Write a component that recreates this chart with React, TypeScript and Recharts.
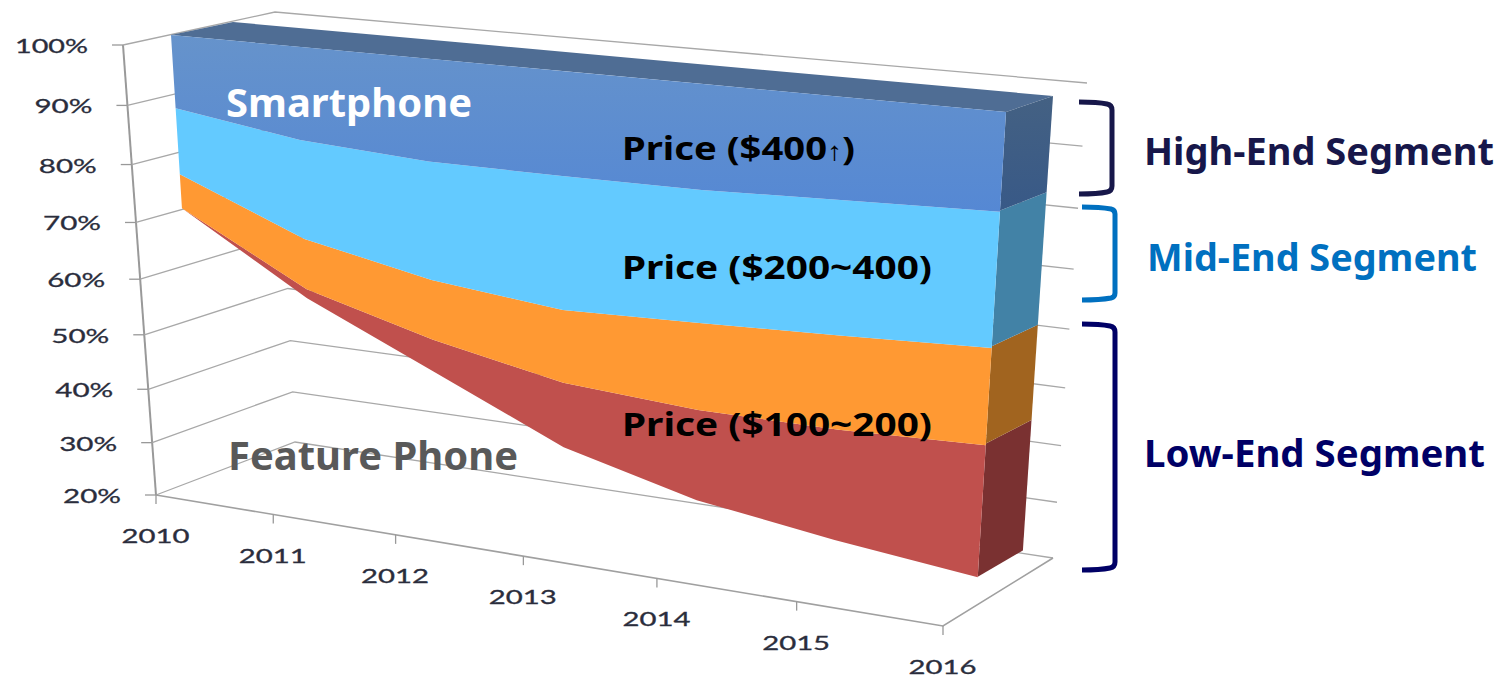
import { AreaChart, Area, XAxis, YAxis, CartesianGrid } from "recharts";

const W = 1501;
const H = 678;

const years = [2010, 2011, 2012, 2013, 2014, 2015, 2016];
const percentTicks = [20, 30, 40, 50, 60, 70, 80, 90, 100];

// shares, stacked from the bottom up
const featurePhone = [70, 56.7, 46.6, 36.5, 30.7, 27.5, 25];
const under100 = [0, 1.6, 5.7, 11.4, 15.8, 19, 22.4];
const price100to200 = [6, 8.9, 10.5, 12.6, 14.8, 15.7, 15.9];
const price200to400 = [11.5, 17.1, 20.2, 22.5, 21.9, 21.8, 21.5];
const price400up = [12.5, 15.7, 17, 17, 16.8, 16, 15.2];

const chartData = years.map((year, i) => ({
  year,
  featurePhone: featurePhone[i],
  under100: under100[i],
  price100to200: price100to200[i],
  price200to400: price200to400[i],
  price400up: price400up[i],
}));

type Pt = [number, number];

// maps the unit square onto a quad, this is what fakes the 3D view
function quadMap(p00: Pt, p10: Pt, p11: Pt, p01: Pt) {
  const sx = p00[0] - p10[0] + p11[0] - p01[0];
  const sy = p00[1] - p10[1] + p11[1] - p01[1];
  const dx1 = p10[0] - p11[0];
  const dx2 = p01[0] - p11[0];
  const dy1 = p10[1] - p11[1];
  const dy2 = p01[1] - p11[1];
  const det = dx1 * dy2 - dx2 * dy1;
  const g = (sx * dy2 - dx2 * sy) / det;
  const h = (dx1 * sy - sx * dy1) / det;
  const a = p10[0] - p00[0] + g * p10[0];
  const b = p01[0] - p00[0] + h * p01[0];
  const d = p10[1] - p00[1] + g * p10[1];
  const e = p01[1] - p00[1] + h * p01[1];
  return (u: number, v: number): Pt => {
    const q = g * u + h * v + 1;
    return [(a * u + b * v + p00[0]) / q, (d * u + e * v + p00[1]) / q];
  };
}

const frontFace = quadMap([171, 35], [1006, 112], [976, 606], [199, 478]);
const sideFace = quadMap([1006, 112], [1053, 96], [1021, 579], [976, 606]);
const topFace = quadMap([171, 35], [1006, 112], [1053, 96], [233, 22]);
const leftWall = quadMap([123, 45], [275, 12], [295, 442], [156, 495]);
const backWall = quadMap([275, 12], [1087, 83], [1053, 558], [295, 442]);
const floor = quadMap([156, 495], [943, 626], [1053, 558], [295, 442]);

// d3 curve that hands both edges of the area to a function returning the polygon
function polygonCurve(toPolygon: (upper: Pt[], lower: Pt[]) => Pt[]) {
  return (context: any) => {
    let lines: Pt[][] = [];
    let cur: Pt[] = [];
    return {
      areaStart() {
        lines = [];
      },
      areaEnd() {
        toPolygon(lines[0], lines[1] || []).forEach((p, i) => {
          if (i === 0) context.moveTo(p[0], p[1]);
          else context.lineTo(p[0], p[1]);
        });
        context.closePath();
      },
      lineStart() {
        cur = [];
      },
      lineEnd() {
        lines.push(cur);
      },
      point(x: number, y: number) {
        cur.push([x, y]);
      },
    };
  };
}

const frontCurve = polygonCurve((upper, lower) =>
  [...upper, ...lower].map(([x, y]) => frontFace(x / W, y / H))
);

const sideCurve = polygonCurve((upper, lower) => {
  const vTop = upper[upper.length - 1][1] / H;
  const vBottom = lower[0][1] / H;
  return [sideFace(0, vTop), sideFace(1, vTop), sideFace(1, vBottom), sideFace(0, vBottom)];
});

const topCurve = polygonCurve((upper) => [
  ...upper.map(([x]) => topFace(x / W, 0)),
  ...[...upper].reverse().map(([x]) => topFace(x / W, 1)),
]);

function toPath(points: Pt[]) {
  return points.map((p, i) => `${i ? "L" : "M"}${p[0]},${p[1]}`).join(" ");
}

function GridLine(props: any) {
  const v = props.y1 / H;
  const isFloor = v > 0.999;
  return (
    <g key={props.key} fill="none">
      <path
        d={toPath([leftWall(0, v), leftWall(1, v), backWall(1, v)])}
        stroke="#a8a8a8"
        strokeWidth={1.3}
      />
      {isFloor && (
        <>
          <path d={toPath([leftWall(0, 0), leftWall(0, 1)])} stroke="#999999" strokeWidth={2} />
          <path
            d={toPath([floor(0, 0), floor(1, 0), floor(1, 1)])}
            stroke="#a0a0a0"
            strokeWidth={1.6}
          />
        </>
      )}
    </g>
  );
}

function PercentTick({ y, payload }: any) {
  const [x0, y0] = leftWall(0, y / H);
  return (
    <g>
      <line x1={x0 - 11} y1={y0} x2={x0} y2={y0} stroke="#999999" strokeWidth={1.3} />
      <text
        x={x0 - 35}
        y={y0 + 8}
        textAnchor="end"
        fontFamily="Lato"
        fontSize={20}
        fill="#2a2d3c"
        stroke="#2a2d3c"
        strokeWidth={0.3}
        textLength={payload.value === 100 ? 73 : 58}
        lengthAdjust="spacingAndGlyphs"
      >
        {payload.value}%
      </text>
    </g>
  );
}

function YearTick({ x, payload }: any) {
  const [x0, y0] = floor(x / W, 0);
  return (
    <g>
      <line x1={x0} y1={y0} x2={x0} y2={y0 + 9} stroke="#999999" strokeWidth={1.3} />
      <text
        x={x0 - 0.5}
        y={y0 + 48}
        textAnchor="middle"
        fontFamily="Lato"
        fontSize={19}
        fill="#2a2d3c"
        stroke="#2a2d3c"
        strokeWidth={0.3}
        textLength={68}
        lengthAdjust="spacingAndGlyphs"
      >
        {payload.value}
      </text>
    </g>
  );
}

const boldFont = '"Noto Sans", sans-serif';

function Caption({ x, y, width, size, fill, children }: any) {
  return (
    <text
      x={x}
      y={y}
      fontFamily={boldFont}
      fontWeight="bold"
      fontSize={size}
      fill={fill}
      textLength={width}
      lengthAdjust="spacingAndGlyphs"
    >
      {children}
    </text>
  );
}

const faceProps = { stroke: "none", fillOpacity: 1, dot: false, activeDot: false, isAnimationActive: false };

export default function App() {
  return (
    <div style={{ position: "absolute", left: 0, top: 0, width: W, height: H, background: "#fff" }}>
      <AreaChart width={W} height={H} data={chartData} margin={{ top: 0, right: 0, bottom: -1, left: -1 }}>
        <defs>
          <linearGradient id="blueFront" x1="0" y1="0" x2="0" y2="1">
            <stop offset="0%" stopColor="#6693cb" />
            <stop offset="100%" stopColor="#5588d4" />
          </linearGradient>
          <linearGradient id="blueSide" x1="0" y1="0" x2="0" y2="1">
            <stop offset="0%" stopColor="#446183" />
            <stop offset="100%" stopColor="#385987" />
          </linearGradient>
        </defs>
        <CartesianGrid vertical={false} horizontal={GridLine} />
        <XAxis
          dataKey="year"
          type="number"
          domain={[2010, 2016]}
          ticks={years}
          interval={0}
          height={1}
          axisLine={false}
          tickLine={false}
          tick={YearTick}
        />
        <YAxis
          type="number"
          domain={[20, 100]}
          ticks={percentTicks}
          interval={0}
          width={1}
          axisLine={false}
          tickLine={false}
          tick={PercentTick}
          allowDataOverflow
        />

        {/* top and right hand faces of the block */}
        <Area dataKey="price400up" stackId="top" type={topCurve as any} fill="#4f6d94" {...faceProps} />
        <Area dataKey="featurePhone" stackId="side" type={sideCurve as any} fill="none" {...faceProps} />
        <Area dataKey="under100" stackId="side" type={sideCurve as any} fill="#7a3131" {...faceProps} />
        <Area dataKey="price100to200" stackId="side" type={sideCurve as any} fill="#a1641f" {...faceProps} />
        <Area dataKey="price200to400" stackId="side" type={sideCurve as any} fill="#4282a6" {...faceProps} />
        <Area dataKey="price400up" stackId="side" type={sideCurve as any} fill="url(#blueSide)" {...faceProps} />

        {/* front face */}
        <Area dataKey="featurePhone" stackId="front" type={frontCurve as any} fill="none" {...faceProps} />
        <Area dataKey="under100" stackId="front" type={frontCurve as any} fill="#c0504d" {...faceProps} />
        <Area dataKey="price100to200" stackId="front" type={frontCurve as any} fill="#ff9933" {...faceProps} />
        <Area dataKey="price200to400" stackId="front" type={frontCurve as any} fill="#63caff" {...faceProps} />
        <Area dataKey="price400up" stackId="front" type={frontCurve as any} fill="url(#blueFront)" {...faceProps} />
      </AreaChart>

      <svg width={W} height={H} style={{ position: "absolute", left: 0, top: 0, pointerEvents: "none" }}>
        <Caption x={226} y={117} width={246} size={40} fill="#ffffff">Smartphone</Caption>
        <Caption x={228} y={470} width={290} size={40} fill="#595959">Feature Phone</Caption>
        <Caption x={622} y={160} width={233} size={33} fill="#000000">
          Price ($400<tspan fontSize={26} fontWeight="normal">↑</tspan>)
        </Caption>
        <Caption x={622} y={279} width={310} size={33} fill="#000000">Price ($200~400)</Caption>
        <Caption x={622} y={436} width={310} size={33} fill="#000000">Price ($100~200)</Caption>
        <Caption x={1144} y={165} width={350} size={38} fill="#17174a">High-End Segment</Caption>
        <Caption x={1147} y={271} width={330} size={38} fill="#0070c0">Mid-End Segment</Caption>
        <Caption x={1144} y={467} width={341} size={38} fill="#000066">Low-End Segment</Caption>

        <path d="M1079,102 Q1098,102 1107,104 Q1112,105 1112,110 V186 Q1112,191 1107,192 Q1098,194 1079,194" fill="none" stroke="#17174a" strokeWidth={5} />
        <path d="M1082,207 Q1100,207 1111,209 Q1115,210 1115,214 V293 Q1115,297 1111,298 Q1100,300 1082,300" fill="none" stroke="#0070c0" strokeWidth={5} />
        <path d="M1082,324 Q1100,324 1110,326 Q1115,327 1115,332 V562 Q1115,567 1110,568 Q1100,570 1082,570" fill="none" stroke="#000066" strokeWidth={5} />
      </svg>
    </div>
  );
}
